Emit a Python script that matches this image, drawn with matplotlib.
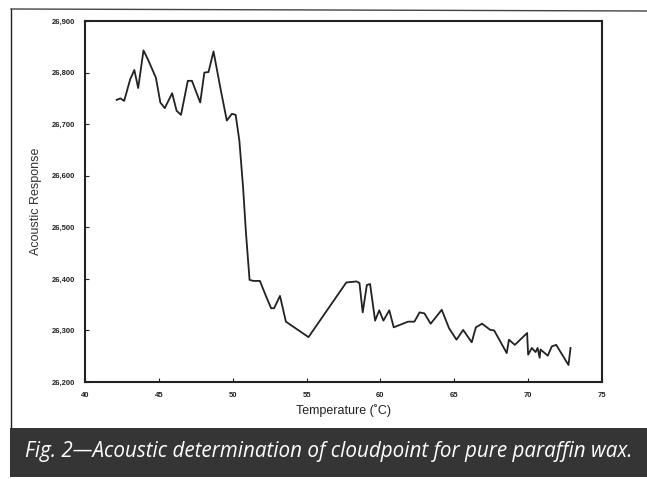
import matplotlib
matplotlib.use("Agg")
import matplotlib.pyplot as plt
from matplotlib.lines import Line2D
from matplotlib.patches import Rectangle
from matplotlib.ticker import FuncFormatter

# temperature (deg C) and acoustic response
temperature = [42.14, 42.4, 42.65, 43.06, 43.34, 43.6, 43.96, 44.3, 44.8, 45.1,
               45.4, 45.9, 46.2, 46.5, 46.96, 47.24, 47.8, 48.08, 48.36, 48.7,
               49.2, 49.6, 49.94, 50.2, 50.45, 50.7, 50.9, 51.14, 51.4, 51.84,
               52.26, 52.6, 52.8, 53.2, 53.6, 55.13, 57.69, 58.38, 58.58, 58.8,
               59.08, 59.3, 59.64, 59.92, 60.2, 60.6, 60.9, 61.87, 62.3, 62.65,
               62.98, 63.4, 64.15, 64.65, 65.15, 65.6, 66.18, 66.46, 66.88, 67.44,
               67.7, 68.55, 68.7, 69.1, 69.93, 70.0, 70.25, 70.5, 70.64, 70.78,
               70.84, 71.33, 71.6, 71.9, 72.73, 72.87]
response = [26747, 26750, 26745, 26787, 26805, 26770, 26843, 26823, 26790, 26742,
            26731, 26760, 26726, 26718, 26784, 26784, 26742, 26800, 26801, 26841,
            26765, 26707, 26720, 26718, 26668, 26578, 26488, 26398, 26396, 26396,
            26366, 26343, 26343, 26367, 26317, 26287, 26393, 26395, 26392, 26335,
            26388, 26390, 26319, 26339, 26319, 26339, 26306, 26317, 26317, 26335,
            26333, 26313, 26340, 26304, 26282, 26301, 26277, 26306, 26313, 26301,
            26300, 26256, 26282, 26272, 26295, 26253, 26266, 26258, 26266, 26247,
            26263, 26251, 26269, 26272, 26233, 26266]

x_ticks = [40, 45, 50, 55, 60, 65, 70, 75]
y_ticks = [26200, 26300, 26400, 26500, 26600, 26700, 26800, 26900]
caption = "Fig. 2\u2014Acoustic determination of cloudpoint for pure paraffin wax."

plt.rcParams["font.family"] = ["Liberation Sans", "DejaVu Sans"]

fig = plt.figure(figsize=(6.47, 4.79), dpi=100)
fig.patch.set_facecolor("white")

# outer frame lines of the scanned page
fig.add_artist(Line2D([11 / 647, 11 / 647], [1 - 428 / 479, 1 - 9 / 479],
                      color="#222222", lw=1.0, transform=fig.transFigure))
fig.add_artist(Line2D([11 / 647, 1.0], [1 - 9 / 479, 1 - 11 / 479],
                      color="#444444", lw=1.0, transform=fig.transFigure))

# dark caption bar
fig.add_artist(Rectangle((10 / 647, 1 - 477 / 479), 1.0, 49 / 479,
                         transform=fig.transFigure, facecolor="#353535",
                         edgecolor="none"))
fig.text(25 / 647, 1 - 452 / 479, caption, color="white", fontsize=14.9,
         style="italic", family="Open Sans", weight="medium",
         va="center", ha="left")

ax = fig.add_axes([85 / 647, 1 - 382 / 479, (602 - 85) / 647, (382 - 21) / 479])
ax.plot(temperature, response, color="#222222", lw=1.3)

ax.set_xlim(40, 75)
ax.set_ylim(26200, 26900)
ax.set_xticks(x_ticks)
ax.set_yticks(y_ticks)
ax.yaxis.set_major_formatter(FuncFormatter(lambda v, p: f"{int(v):,}"))
ax.tick_params(direction="in", length=3, width=0.8, labelsize=5.5,
               colors="#222222", pad=7)
for lbl in ax.get_xticklabels() + ax.get_yticklabels():
    lbl.set_fontweight("bold")
for s in ax.spines.values():
    s.set_linewidth(1.5)
    s.set_color("#222222")

ax.set_xlabel("Temperature (\u02daC)", fontsize=9, color="#222222", labelpad=4)
ax.set_ylabel("Acoustic Response", fontsize=9, color="#333333", labelpad=7)

fig.savefig("out.png", dpi=100)
